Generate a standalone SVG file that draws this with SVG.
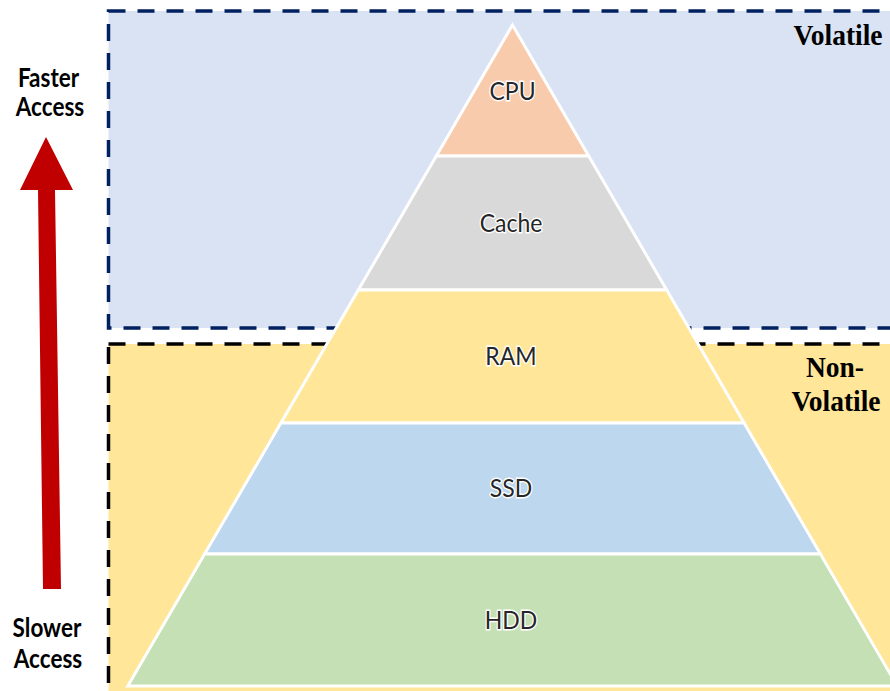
<svg xmlns="http://www.w3.org/2000/svg" width="890" height="691" viewBox="0 0 890 691">
  <style>
    .zone-v { fill: #DAE3F3; stroke: #002060; stroke-width: 3.5; stroke-dasharray: 17 12; }
    .zone-nv { fill: #FFE699; stroke: #000000; stroke-width: 3.5; stroke-dasharray: 17 12; }
    .tier { stroke: #FFFFFF; stroke-width: 3; stroke-linejoin: miter; }
    .tier-label { font-family: Lato, "Open Sans", sans-serif; font-size: 23px; fill: #262626; stroke: #FFFFFF; stroke-width: 2.5; paint-order: stroke; text-anchor: middle; }
    .side-label { font-family: Lato, "Open Sans", sans-serif; font-weight: bold; font-size: 22.5px; fill: #000000; text-anchor: middle; }
    .zone-label { font-family: "Liberation Serif", "Times New Roman", serif; font-weight: bold; font-size: 27.5px; fill: #000000; text-anchor: middle; }
  </style>

  <rect width="890" height="691" fill="#FFFFFF"/>

  <!-- memory zones -->
  <g id="zone-volatile">
    <rect class="zone-v" x="108.5" y="11" width="800" height="317"/>
    <text class="zone-label" transform="translate(838,45) scale(1,1.08)">Volatile</text>
  </g>
  <g id="zone-nonvolatile">
    <rect class="zone-nv" x="108.5" y="344" width="800" height="370"/>
    <text class="zone-label" transform="translate(835,377) scale(1,1.05)">Non-</text>
    <text class="zone-label" transform="translate(836,411) scale(1,1.05)">Volatile</text>
  </g>

  <!-- speed arrow -->
  <g id="speed-arrow">
    <polygon points="46,137 73,190 55,190 61,589 43,589 38,190 20,190" fill="#C00000"/>
    <text class="side-label" transform="translate(48.5,87) scale(1,1.15)">Faster</text>
    <text class="side-label" transform="translate(50,116) scale(1,1.15)">Access</text>
    <text class="side-label" transform="translate(47,637) scale(1,1.15)">Slower</text>
    <text class="side-label" transform="translate(48,668) scale(1,1.15)">Access</text>
  </g>

  <!-- pyramid tiers -->
  <g id="tier-cpu">
    <polygon class="tier" fill="#F8CBAD" points="512.5,25 588.7,156 436.3,156"/>
    <text class="tier-label" transform="translate(512.5,100) scale(1,1.1)">CPU</text>
  </g>
  <g id="tier-cache">
    <polygon class="tier" fill="#D9D9D9" points="436.3,156 588.7,156 666.7,290 358.3,290"/>
    <text class="tier-label" transform="translate(511,232) scale(1,1.1)">Cache</text>
  </g>
  <g id="tier-ram">
    <polygon class="tier" fill="#FFE699" points="358.3,290 666.7,290 744.1,423 280.9,423"/>
    <text class="tier-label" transform="translate(511,365) scale(1,1.1)">RAM</text>
  </g>
  <g id="tier-ssd">
    <polygon class="tier" fill="#BDD7EE" points="280.9,423 744.1,423 820.4,554 204.6,554"/>
    <text class="tier-label" transform="translate(511,497) scale(1,1.1)">SSD</text>
  </g>
  <g id="tier-hdd">
    <polygon class="tier" fill="#C5E0B4" points="204.6,554 820.4,554 897.2,686 127.8,686"/>
    <text class="tier-label" transform="translate(511,629) scale(1,1.1)">HDD</text>
  </g>
</svg>
